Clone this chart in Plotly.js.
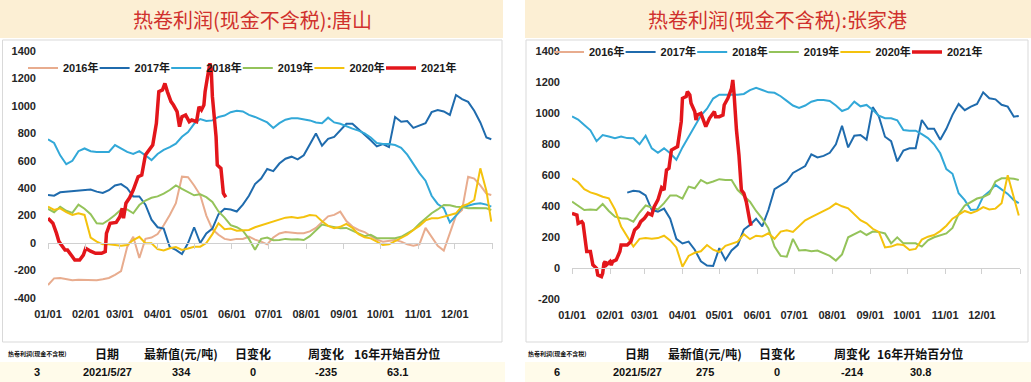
<!DOCTYPE html>
<html><head><meta charset="utf-8">
<script src="https://cdn.plot.ly/plotly-3.0.1.min.js"></script>
<style>html,body{margin:0;padding:0;background:#fff;}#chart{width:1031px;height:382px;}</style>
</head><body><div id="chart"></div>
<script>
const W = 1031, H = 382;
const years = ["2016年","2017年","2018年","2019年","2020年","2021年"];
const yearColors = ["#E8AC8E","#1F6BAD","#32A8D8","#94C35A","#F4C20D","#E3161B"];
const panelTitles = ["热卷利润(现金不含税):唐山","热卷利润(现金不含税):张家港"];
const monthTicks = ["01/01","02/01","03/01","04/01","05/01","06/01","07/01","08/01","09/01","10/01","11/01","12/01"];
const monthDates = ["01-01","02-01","03-01","04-01","05-01","06-01","07-01","08-01","09-01","10-01","11-01","12-01"];
const yTicksLeft = [-400,-200,0,200,400,600,800,1000,1200,1400];
const yTicksRight = [-200,0,200,400,600,800,1000,1200,1400];
const tableHeaders = ["热卷利润(现金不含税)","日期","最新值(元/吨)","日变化","周变化","16年开始百分位"];
const tableLeft = ["3","2021/5/27","334","0","-235","63.1"];
const tableRight = ["6","2021/5/27","275","0","-214","30.8"];

const gridDates = ["01-01","01-06","01-11","01-16","01-21","01-26","01-31","02-05","02-10","02-15","02-20","02-25",
"03-02","03-07","03-12","03-17","03-22","03-27","04-01","04-06","04-11","04-16","04-21","04-26",
"05-01","05-06","05-11","05-16","05-21","05-26","05-31","06-05","06-10","06-15","06-20","06-25","06-30",
"07-05","07-10","07-15","07-20","07-25","07-30","08-04","08-09","08-14","08-19","08-24","08-29",
"09-03","09-08","09-13","09-18","09-23","09-28","10-03","10-08","10-13","10-18","10-23","10-28",
"11-02","11-07","11-12","11-17","11-22","11-27","12-02","12-07","12-12","12-17","12-22","12-27","12-31"];

// 唐山
const left2016 = [-307,-258,-255,-262,-272,-268,-270,-273,-271,-265,-255,-232,-205,-30,46,-110,30,40,65,130,204,290,484,480,420,350,200,100,60,30,22,30,30,46,25,10,-10,40,70,80,75,72,72,85,110,150,195,205,229,160,120,95,80,50,25,10,18,22,10,-10,-20,-10,110,40,-20,-55,70,200,241,484,470,420,360,350];
const left2017 = [350,345,370,375,375,385,385,390,375,365,385,420,430,400,340,340,280,170,115,105,-30,-50,-80,0,115,0,70,105,210,250,245,230,280,345,430,470,540,525,580,615,630,610,640,720,800,710,760,775,820,870,870,830,795,750,705,722,700,920,885,890,840,860,875,955,970,960,935,1080,1050,1030,965,880,770,757];
const left2018 = [757,730,640,575,600,670,690,670,665,665,665,715,690,665,650,670,640,605,650,680,700,725,775,810,870,905,890,895,920,930,955,965,960,935,920,900,880,840,875,900,910,910,905,895,880,875,915,880,870,850,835,820,800,770,730,722,722,715,695,645,575,510,455,345,285,255,150,200,260,275,285,290,280,265];
const left2019 = [250,225,265,235,220,280,250,210,144,140,170,204,245,245,217,277,310,330,340,360,387,420,395,370,348,355,335,300,230,185,130,115,90,30,-50,30,40,20,22,30,25,28,22,50,95,135,125,115,108,110,90,72,50,60,35,34,34,34,45,70,95,140,180,217,245,277,275,265,262,253,255,255,253,241];
const left2020 = [265,241,253,225,205,217,205,40,10,-10,-10,-15,-20,-15,22,45,-2,-2,-45,-55,-39,-30,-51,-40,-27,-27,0,65,144,100,105,90,90,95,115,130,140,155,175,185,190,182,190,204,200,158,125,108,118,140,110,65,42,34,10,-15,-10,15,36,60,95,125,165,180,180,192,204,217,270,285,314,545,380,156];
const left2021Dates = ["01-01","01-05","01-08","01-10","01-15","01-17","01-20","01-23","01-27","01-30","02-01","02-03","02-05","02-09","02-14","02-17","02-18","02-21","02-26","03-01","03-03","03-04","03-05","03-06","03-09","03-12","03-16","03-19","03-22","03-26","03-28","03-31","04-02","04-05","04-07","04-09","04-12","04-14","04-17","04-19","04-21","04-24","04-27","04-29","05-03","05-05","05-07","05-09","05-10","05-12","05-14","05-15","05-16","05-19","05-20","05-23","05-25","05-27"];
const left2021 = [180,144,70,10,-51,-51,-88,-124,-124,-88,-39,-51,-60,-75,-75,-63,70,144,150,192,253,180,241,290,330,387,484,496,642,691,715,873,1105,1117,1165,1105,1032,1007,959,849,922,934,886,898,886,995,971,1007,1105,1214,1311,1275,1068,776,569,545,363,334];

// 张家港
const right2016 = [];
const right2017 = [null,null,null,null,null,null,null,null,null,488,500,495,470,376,366,385,320,190,160,172,120,45,18,15,130,54,115,150,250,280,320,270,376,510,535,560,615,640,660,735,715,725,745,800,920,780,855,860,830,1040,980,849,820,690,760,774,775,957,900,900,830,900,990,1060,1020,1043,1060,1135,1097,1090,1055,1043,978,983];
const right2018 = [980,960,925,890,820,860,850,840,850,840,839,800,855,774,745,774,742,700,780,850,920,985,1030,1095,1120,1118,1120,1120,1125,1150,1165,1150,1135,1132,1110,1080,1050,1035,1050,1075,1085,1086,1080,1050,1015,1030,1075,1045,1054,1022,985,968,968,955,892,888,888,865,840,800,742,640,610,484,440,376,380,462,495,538,510,480,440,420];
const right2019 = [430,400,376,380,376,415,370,333,323,320,301,360,405,392,380,420,470,470,450,527,516,570,548,560,575,570,570,505,470,430,370,320,258,140,80,75,190,115,118,110,115,95,80,50,90,200,220,240,215,237,235,225,161,200,161,161,161,140,180,200,210,225,260,350,405,430,450,460,480,560,581,581,578,570];
const right2020 = [581,555,510,490,478,462,452,380,270,205,140,190,195,190,195,210,180,135,10,80,100,110,150,120,105,145,161,172,220,188,210,206,226,190,237,245,235,270,310,330,350,370,390,419,400,387,350,310,290,255,235,135,140,155,150,118,125,185,204,215,240,275,320,344,370,355,370,395,380,385,420,600,460,340];
const right2021Dates = ["01-01","01-05","01-06","01-09","01-10","01-12","01-13","01-16","01-17","01-18","01-21","01-22","01-25","01-26","01-27","01-28","01-29","02-01","02-02","02-03","02-06","02-09","02-10","02-15","02-18","02-21","02-24","02-26","03-01","03-04","03-07","03-09","03-12","03-15","03-17","03-19","03-21","03-23","03-28","03-31","04-01","04-04","04-05","04-07","04-08","04-11","04-12","04-13","04-16","04-19","04-20","04-23","04-27","04-28","05-01","05-04","05-05","05-08","05-11","05-12","05-13","05-15","05-16","05-17","05-19","05-21","05-23","05-24","05-26","05-27"];
const right2021 = [355,344,290,301,290,183,108,108,75,22,0,-43,-54,-32,32,43,22,43,20,43,54,108,150,150,172,247,269,301,323,355,344,398,441,520,505,634,645,763,785,946,1097,1108,1140,1118,1065,1011,957,989,1000,935,914,968,1011,978,978,989,1054,1097,1161,1215,1129,892,828,731,505,484,430,376,300,275];

const YEAR = "2021-";
const toDate = a => a.map(s => YEAR + s);
const px = v => v / W, py = v => 1 - v / H;

const leftSeries = [left2016, left2017, left2018, left2019, left2020];
const rightSeries = [right2016, right2017, right2018, right2019, right2020];
const traces = [];
const fontFam = "Liberation Sans, Arial, Noto Sans CJK SC, sans-serif";

function addPanel(series, redDates, redVals, xa, ya, leg) {
  series.forEach((vals, i) => {
    const empty = vals.length === 0;
    traces.push({
      type: "scatter", mode: "lines", name: years[i],
      x: empty ? [YEAR + gridDates[0]] : toDate(gridDates), y: empty ? [null] : vals,
      xaxis: xa, yaxis: ya, legend: leg,
      line: {color: yearColors[i], width: 2}, connectgaps: false
    });
  });
  traces.push({
    type: "scatter", mode: "lines", name: years[5],
    x: toDate(redDates), y: redVals,
    xaxis: xa, yaxis: ya, legend: leg, legendwidth: 45,
    line: {color: yearColors[5], width: 3.5}
  });
}
addPanel(leftSeries, left2021Dates, left2021, "x", "y", "legend");
addPanel(rightSeries, right2021Dates, right2021, "x2", "y2", "legend2");
// carriers for the zero-line axes
traces.push({type:"scatter", mode:"lines", x:[YEAR+"01-01"], y:[null], xaxis:"x3", yaxis:"y", showlegend:false, hoverinfo:"skip"});
traces.push({type:"scatter", mode:"lines", x:[YEAR+"01-01"], y:[null], xaxis:"x4", yaxis:"y2", showlegend:false, hoverinfo:"skip"});

const tickFont = {family: fontFam, size: 11, color: "#262626", weight: "bold"};
const xRange = ["2021-01-01", "2022-01-01"];
const xTickVals = toDate(monthDates);
const zeroTickVals = xTickVals.concat(["2022-01-01"]);

const domL = [px(48), px(492.5)], domR = [px(572), px(1020)];
const ydomL = [py(297.8), py(51.2)], ydomR = [py(299.3), py(51.3)];

function xAxis(dom, anchor) {
  return {domain: dom, anchor: anchor, type: "date", range: xRange, tickmode: "array",
    tickvals: xTickVals, ticktext: monthTicks, ticks: "", showline: false, showgrid: false,
    zeroline: false, tickfont: tickFont, ticklabelstandoff: 8, fixedrange: true};
}
function yAxis(dom, anchor, ticks) {
  return {domain: dom, anchor: anchor, range: [ticks[0], ticks[ticks.length-1]], tickmode: "array",
    tickvals: ticks, ticktext: ticks.map(String), ticks: "", showline: false, showgrid: false,
    zeroline: false, tickfont: tickFont, ticklabelstandoff: 11, fixedrange: true};
}
function zeroAxis(dom, over, pos) {
  return {domain: dom, overlaying: over, anchor: "free", position: pos, type: "date", range: xRange,
    tickmode: "array", tickvals: zeroTickVals, showticklabels: false, ticks: "outside", ticklen: 5,
    tickcolor: "#D0D0D0", showline: true, linecolor: "#D0D0D0", linewidth: 1, showgrid: false,
    zeroline: false, fixedrange: true};
}
const posL = ydomL[0] + (0 - yTicksLeft[0]) / (yTicksLeft[yTicksLeft.length-1] - yTicksLeft[0]) * (ydomL[1] - ydomL[0]);
const posR = ydomR[0] + (0 - yTicksRight[0]) / (yTicksRight[yTicksRight.length-1] - yTicksRight[0]) * (ydomR[1] - ydomR[0]);

const legendBase = {orientation: "h", xanchor: "left", yanchor: "middle", entrywidth: 26.6, entrywidthmode: "pixels",
  itemwidth: 30, bgcolor: "rgba(0,0,0,0)", borderwidth: 0, traceorder: "normal",
  font: {family: fontFam, size: 11, color: "#1a1a1a", weight: "bold"}};

const shapes = [
  {type:"rect", xref:"paper", yref:"paper", x0:px(0), x1:px(503), y0:py(38), y1:py(0), fillcolor:"#FCEFD4", line:{width:0}, layer:"below"},
  {type:"rect", xref:"paper", yref:"paper", x0:px(525), x1:px(1031), y0:py(38), y1:py(0), fillcolor:"#FCEFD4", line:{width:0}, layer:"below"},
  {type:"rect", xref:"paper", yref:"paper", x0:px(2.5), x1:px(502), y0:py(342), y1:py(40), fillcolor:"#FFFFFF", line:{color:"#D9D9D9", width:1}, layer:"below"},
  {type:"rect", xref:"paper", yref:"paper", x0:px(526), x1:px(1028), y0:py(342), y1:py(40), fillcolor:"#FFFFFF", line:{color:"#D9D9D9", width:1}, layer:"below"},
  {type:"rect", xref:"paper", yref:"paper", x0:px(0), x1:px(505), y0:py(382), y1:py(362), fillcolor:"#FFFBEA", line:{width:0}, layer:"below"},
  {type:"rect", xref:"paper", yref:"paper", x0:px(525), x1:px(1031), y0:py(382), y1:py(362), fillcolor:"#FFFBEA", line:{width:0}, layer:"below"}
];

const annotations = [];
const titleX = [252, 777];
panelTitles.forEach((t, i) => annotations.push({xref:"paper", yref:"paper", x:px(titleX[i]), y:py(20),
  xanchor:"center", yanchor:"middle", showarrow:false, text:t,
  font:{family:"Noto Sans CJK SC, sans-serif", size:20, color:"#D0312D"}}));
const colXL = [37, 107, 181, 253, 326, 397];
const colXR = [557, 637, 705, 777, 852, 920];
[[colXL, tableLeft], [colXR, tableRight]].forEach(([cols, row]) => {
  tableHeaders.forEach((h, j) => annotations.push({xref:"paper", yref:"paper", x:px(cols[j]), y:py(353),
    xanchor:"center", yanchor:"middle", showarrow:false, text:h,
    font:{family:"Noto Sans CJK SC, sans-serif", size: j === 0 ? 6 : 12, color:"#111", weight:"bold"}}));
  row.forEach((v, j) => annotations.push({xref:"paper", yref:"paper", x:px(cols[j]), y:py(372),
    xanchor:"center", yanchor:"middle", showarrow:false, text:v,
    font:{family:fontFam, size:11, color:"#111", weight:"bold"}}));
});

const layout = {
  width: W, height: H, margin: {l:0, r:0, t:0, b:0},
  paper_bgcolor: "#FFFFFF", plot_bgcolor: "rgba(0,0,0,0)", hovermode: false,
  xaxis: xAxis(domL, "y"), yaxis: yAxis(ydomL, "x", yTicksLeft),
  xaxis2: xAxis(domR, "y2"), yaxis2: yAxis(ydomR, "x2", yTicksRight),
  xaxis3: zeroAxis(domL, "x", posL), xaxis4: zeroAxis(domR, "x2", posR),
  legend: Object.assign({}, legendBase, {x: px(23), y: py(68)}),
  legend2: Object.assign({}, legendBase, {x: px(549), y: py(52)}),
  shapes: shapes, annotations: annotations
};
Plotly.newPlot("chart", traces, layout, {staticPlot: true, displayModeBar: false});
</script></body></html>
